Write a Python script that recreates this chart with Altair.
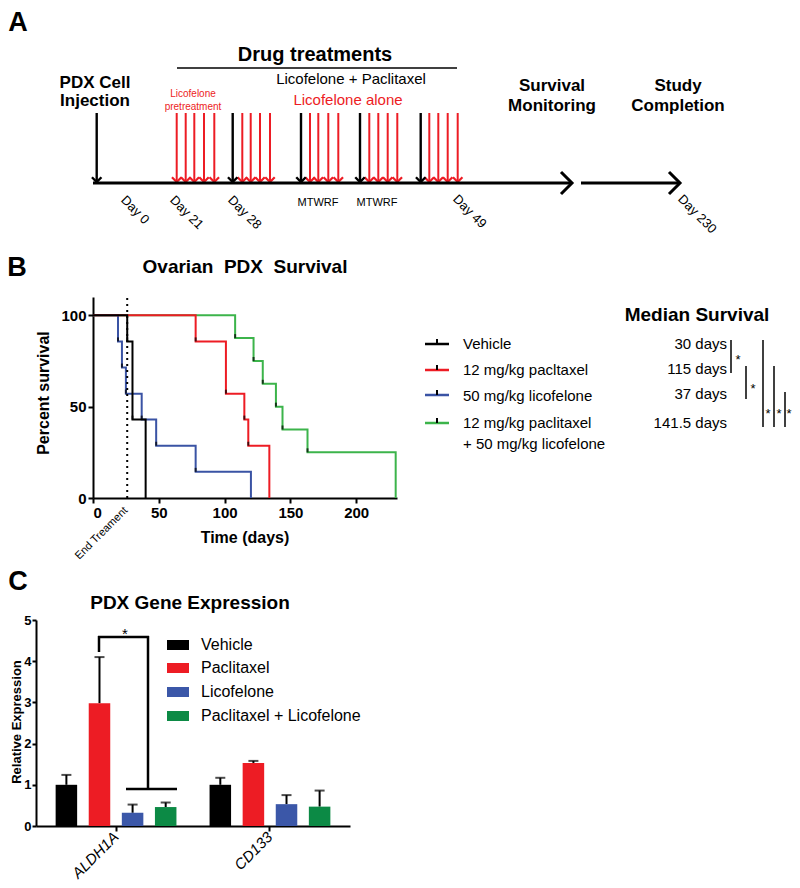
import altair as alt
import pandas as pd

FONT = "Liberation Sans"

# ---------------- data: panel B (Kaplan-Meier) ----------------
veh_days = [0, 26, 30, 40]
veh_surv = [100, 85.7, 42.9, 0]
pac_days = [0, 78, 101, 115, 118, 134]
pac_surv = [100, 85.7, 57.1, 42.9, 28.6, 0]
lico_days = [0, 19, 22, 25, 37, 48, 78, 120]
lico_surv = [100, 85.7, 71.4, 57.1, 42.9, 28.6, 14.3, 0]
combo_days = [0, 108, 122, 129, 139, 144, 163, 230]
combo_surv = [100, 87.5, 75, 62.5, 50, 37.5, 25, 0]
end_treatment_day = [26]
surv_labels = ["Vehicle", "12 mg/kg pacltaxel", "50 mg/kg licofelone", "12 mg/kg paclitaxel"]
surv_label_extra = ["+ 50 mg/kg licofelone"]
median_survival = ["30 days", "115 days", "37 days", "141.5 days"]

# ---------------- data: panel C (bars) ----------------
genes = ["ALDH1A", "CD133"]
treatments = ["Vehicle", "Paclitaxel", "Licofelone", "Paclitaxel + Licofelone"]
aldh_mean = [1.0, 2.98, 0.32, 0.46]
aldh_err = [0.24, 1.12, 0.2, 0.11]
cd133_mean = [1.0, 1.53, 0.53, 0.47]
cd133_err = [0.17, 0.05, 0.22, 0.39]

# ---------------- data: panel A (schedule) ----------------
day_labels = ["Day 0", "Day 21", "Day 28", "Day 49", "Day 230"]
weekday_label = "MTWRF"

# ---------------- styles ----------------
C_BLACK = "#000000"
C_RED_LINE = "#ED1C24"
C_BLUE_LINE = "#3A53A4"
C_GREEN_LINE = "#3CB44B"
BAR_COLORS = ["#000000", "#ED1C24", "#3B57A8", "#0C8A45"]

W = 784
H = 872
# pixel space used for the schematic / annotations (image coords)
X_PIX = alt.Scale(domain=[8, 8 + W], range=[0, W])
Y_PIX = alt.Scale(domain=[8, 8 + H], range=[0, H])


def txt(rows, size, weight="normal", color="black", align="center", angle=0, style="normal"):
    df = pd.DataFrame(rows, columns=["label", "px", "py"])
    return alt.Chart(df).mark_text(
        font=FONT, fontSize=size, fontWeight=weight, fontStyle=style, color=color,
        align=align, baseline="middle", angle=angle
    ).encode(
        x=alt.X("px:Q", scale=X_PIX, axis=None),
        y=alt.Y("py:Q", scale=Y_PIX, axis=None),
        text="label:N",
    )


def seg(rows, color, width, dash=None):
    df = pd.DataFrame(rows, columns=["px", "py", "px2", "py2"])
    kw = dict(color=color, strokeWidth=width, strokeCap="butt")
    if dash:
        kw["strokeDash"] = dash
    return alt.Chart(df).mark_rule(**kw).encode(
        x=alt.X("px:Q", scale=X_PIX, axis=None),
        y=alt.Y("py:Q", scale=Y_PIX, axis=None),
        x2="px2:Q", y2="py2:Q",
    )


def heads(xs, ys, shape, size, color, width):
    df = pd.DataFrame({"px": xs, "py": ys})
    return alt.Chart(df).mark_point(
        shape=shape, size=size, filled=False, color=color, strokeWidth=width,
        opacity=1, strokeJoin="miter"
    ).encode(
        x=alt.X("px:Q", scale=X_PIX, axis=None),
        y=alt.Y("py:Q", scale=Y_PIX, axis=None),
    )


# ================= Panel A =================
black_arrow_x = [96.7, 232.7, 301, 360, 420.7]
red_arrow_x = [176.7, 185.7, 194.3, 204, 214.3,
               242.3, 250.7, 260, 270,
               310, 318.3, 328.3, 338.3,
               369.3, 378.3, 387.7, 397.3,
               429.3, 438.3, 447.7, 457.7]
ARROW_TOP, ARROW_TIP, AXIS_Y = 113, 182, 183
DOWN = "M-1,-1L0,0L1,-1"
RIGHT = "M-1,-1L0,0L-1,1"

a_layers = [
    txt([("A", 18, 23), ("B", 17, 268), ("C", 18, 582)], 27, "bold"),
    txt([("Drug treatments", 315, 55)], 20, "bold"),
    seg([(177, 68, 457, 68)], C_BLACK, 1.5),
    txt([("Licofelone + Paclitaxel", 351, 79)], 15),
    txt([("Licofelone alone", 348, 100)], 15, color=C_RED_LINE),
    txt([("PDX Cell", 95, 83), ("Injection", 95, 101),
         ("Survival", 552, 86), ("Monitoring", 552, 106),
         ("Study", 678, 86), ("Completion", 678, 106)], 17, "bold"),
    txt([("Licofelone", 193, 94), ("pretreatment", 193, 107)], 10, color=C_RED_LINE),
    txt([(weekday_label, 318, 203), (weekday_label, 377, 203)], 11),
    txt(list(zip(day_labels, [123, 172, 230, 455, 680], [198, 198, 198, 197, 197])), 13,
        align="left", angle=45),
    seg([(x, ARROW_TOP, x, ARROW_TIP - 1) for x in red_arrow_x], C_RED_LINE, 2),
    heads(red_arrow_x, [ARROW_TIP] * len(red_arrow_x), DOWN, 90, C_RED_LINE, 2.2),
    seg([(x, ARROW_TOP, x, ARROW_TIP - 1) for x in black_arrow_x], C_BLACK, 2.4),
    heads(black_arrow_x, [ARROW_TIP] * len(black_arrow_x), DOWN, 90, C_BLACK, 2.4),
    seg([(93, AXIS_Y, 572, AXIS_Y), (581, AXIS_Y, 680, AXIS_Y)], C_BLACK, 3),
    heads([572, 680], [AXIS_Y, AXIS_Y], RIGHT, 484, C_BLACK, 3),
]

# ================= Panel B annotations (pixel space) =================
leg_y = [344, 370, 395, 423]
leg_cols = [C_BLACK, C_RED_LINE, C_BLUE_LINE, C_GREEN_LINE]
b_ann = [
    txt([("Ovarian\u00a0 PDX\u00a0 Survival", 245, 267)], 19, "bold"),
    txt([("Percent survival", 44, 393)], 16, "bold", angle=270),
    txt([("Time (days)", 245, 538)], 16, "bold"),
    txt([("End Treament", 126, 509)], 11, align="right", angle=315),
    txt([("Median Survival", 697, 315)], 19, "bold"),
    txt(list(zip(surv_labels + surv_label_extra, [463] * 5, [344, 370, 396, 423, 444])), 15, align="left"),
    txt(list(zip(median_survival, [727] * 4, [344, 369, 394, 423])), 15, align="right"),
    txt([("*", 738, 360), ("*", 753, 389), ("*", 768, 414), ("*", 779, 414), ("*", 789, 414)], 13),
    seg([(731, 340, 731, 373), (746, 366, 746, 399), (763, 340, 763, 427),
         (774, 366, 774, 427), (785, 392, 785, 427)], C_BLACK, 1.5),
]
for yy, cc in zip(leg_y, leg_cols):
    b_ann.append(seg([(425, yy, 449, yy)], cc, 2.5))
b_ann.append(seg([(437, yy - 5, 437, yy) for yy in leg_y], C_BLACK, 2))

# ================= Panel C annotations (pixel space) =================
sw_y = [645, 668, 692, 716]
sw_df = pd.DataFrame({"px": [167] * 4, "px2": [189] * 4,
                      "py": [y - 5 for y in sw_y], "py2": [y + 5 for y in sw_y],
                      "col": BAR_COLORS})
c_ann = [
    txt([("PDX Gene Expression", 190, 603)], 19, "bold"),
    txt([("Relative Expression", 17, 722)], 13, "bold", angle=270),
    txt(list(zip(treatments, [201] * 4, sw_y)), 16, align="left"),
    alt.Chart(sw_df).mark_rect().encode(
        x=alt.X("px:Q", scale=X_PIX, axis=None), x2="px2:Q",
        y=alt.Y("py:Q", scale=Y_PIX, axis=None), y2="py2:Q",
        color=alt.Color("col:N", scale=None)),
    seg([(98, 637, 149, 637), (99, 636, 99, 652), (148, 636, 148, 790), (126, 789, 177, 789)], C_BLACK, 2.5),
    txt([("*", 125, 634)], 15),
]

annot = alt.layer(*(a_layers + b_ann + c_ann))

# ================= Panel B: survival curves =================
X_B = alt.Scale(domain=[0, 231], range=[85, 389], nice=False, zero=False)
Y_B = alt.Scale(domain=[0, 110], range=[490, 289], nice=False)
axis_common = dict(grid=False, domainColor="black", domainWidth=2, tickColor="black", tickWidth=2,
                   labelFont=FONT, labelColor="black", title=None)
AX_BX = alt.Axis(orient="bottom", offset=490 - H, values=[0, 50, 100, 150, 200], tickSize=5,
                 labelFontSize=15, labelFontWeight="bold", labelPadding=2, **axis_common)
AX_BY = alt.Axis(orient="left", offset=-85, values=[0, 50, 100], tickSize=5,
                 labelFontSize=15, labelFontWeight="bold", labelPadding=2, **axis_common)

series = [(combo_days, combo_surv, C_GREEN_LINE), (lico_days, lico_surv, C_BLUE_LINE),
          (pac_days, pac_surv, C_RED_LINE), (veh_days, veh_surv, C_BLACK)]
b_layers = []
for d, s, c in series:
    df = pd.DataFrame({"day": d, "surv": s})
    b_layers.append(alt.Chart(df).mark_line(interpolate="step-after", color=c, strokeWidth=2).encode(
        x=alt.X("day:Q", scale=X_B, axis=AX_BX),
        y=alt.Y("surv:Q", scale=Y_B, axis=AX_BY),
        order="day:Q"))

tick_rows = []
for d, s, c in series:
    for dd, ss in zip(d, s):
        if dd > 0 and ss > 0:
            tick_rows.append((dd, ss))
tick_df = pd.DataFrame(tick_rows, columns=["day", "surv"])
b_layers.append(alt.Chart(tick_df).mark_tick(orient="vertical", size=4, thickness=2, color="black",
                                             yOffset=-2).encode(
    x=alt.X("day:Q", scale=X_B, axis=AX_BX),
    y=alt.Y("surv:Q", scale=Y_B, axis=AX_BY)))

dot_df = pd.DataFrame({"day": end_treatment_day, "lo": [0], "hi": [110]})
b_layers.append(alt.Chart(dot_df).mark_rule(color="black", strokeWidth=2, strokeDash=[2, 4]).encode(
    x=alt.X("day:Q", scale=X_B, axis=AX_BX),
    y=alt.Y("lo:Q", scale=Y_B, axis=AX_BY), y2="hi:Q"))

panel_b = alt.layer(*b_layers)

# ================= Panel C: bars =================
rows = []
for gi, (means, errs) in enumerate([(aldh_mean, aldh_err), (cd133_mean, cd133_err)]):
    for t, m, e in zip(treatments, means, errs):
        rows.append({"gene": genes[gi], "treatment": t, "mean": m, "upper": m + e})
c_df = pd.DataFrame(rows)

X_C = alt.Scale(domain=genes, range=[28, 342], paddingInner=0, paddingOuter=0.02)
XO_C = alt.Scale(domain=treatments, paddingInner=0.35, paddingOuter=0.5)
Y_C = alt.Scale(domain=[0, 5], range=[818, 612], nice=False)
AX_CX = alt.Axis(orient="bottom", offset=818 - H, labelAngle=315, labelAlign="right", labelBaseline="middle",
                 tickSize=5, labelFontSize=15, labelFontStyle="italic", labelPadding=3, **axis_common)
AX_CY = alt.Axis(orient="left", offset=-28, values=[0, 1, 2, 3, 4, 5], tickSize=4,
                 labelFontSize=13, labelFontWeight="bold", labelPadding=1, **axis_common)

enc_x = alt.X("gene:N", scale=X_C, axis=AX_CX)
enc_xo = alt.XOffset("treatment:N", scale=XO_C)
c_base = alt.Chart(c_df)
panel_c = alt.layer(
    c_base.mark_rule(color="black", strokeWidth=2).encode(
        x=enc_x, xOffset=enc_xo, y=alt.Y("mean:Q", scale=Y_C, axis=AX_CY), y2="upper:Q"),
    c_base.mark_tick(color="black", thickness=2, size=10).encode(
        x=enc_x, xOffset=enc_xo, y=alt.Y("upper:Q", scale=Y_C, axis=AX_CY)),
    c_base.mark_bar().encode(
        x=enc_x, xOffset=enc_xo, y=alt.Y("mean:Q", scale=Y_C, axis=AX_CY),
        color=alt.Color("treatment:N", scale=alt.Scale(domain=treatments, range=BAR_COLORS), legend=None)),
)

chart = alt.layer(annot, panel_b, panel_c).resolve_scale(
    x="independent", y="independent", color="independent"
).properties(
    width=W, height=H, padding=0, autosize=alt.AutoSizeParams(type="none"), background="white"
).configure_view(stroke=None)

chart.save("out.html", embed_options={"renderer": "svg", "actions": False})
